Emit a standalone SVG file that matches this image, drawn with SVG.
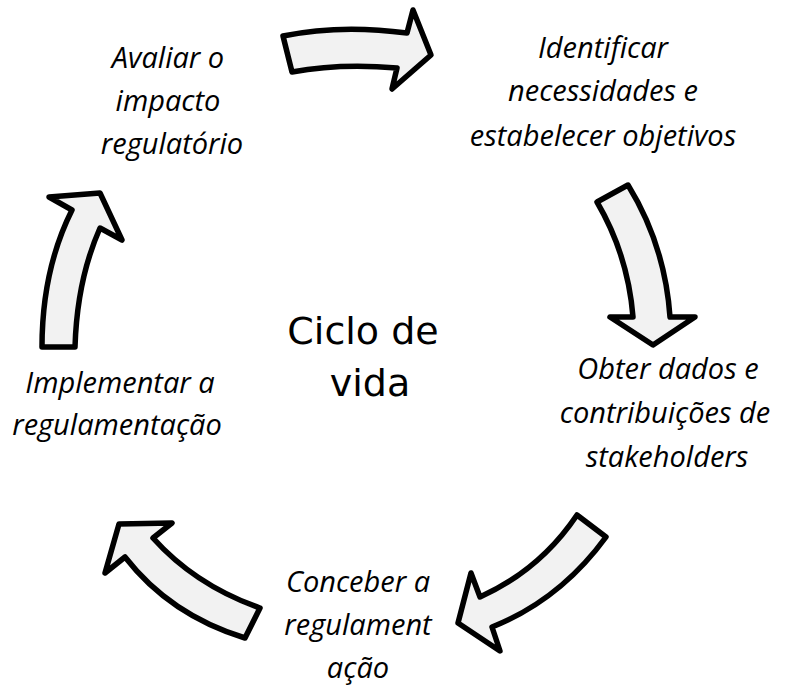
<svg xmlns="http://www.w3.org/2000/svg" width="791" height="688" viewBox="0 0 791 688">
<style>
.arr{fill:#f2f2f2;stroke:#000;stroke-width:5.5;stroke-linejoin:round}
.lbl{font-family:"Open Sans","Liberation Sans",sans-serif;font-style:italic;font-size:29px;fill:#000;text-anchor:middle}
.ctr{font-family:"DejaVu Sans","Liberation Sans",sans-serif;font-size:38px;fill:#000;text-anchor:middle}
</style>
<rect width="791" height="688" fill="#fff"/>
<g id="connectors">
<path class="arr" d="M283,36 Q340,24 407,33 L413,10 L431,55 L392,89 L397,68 Q340,63 292,72 Z"/>
<path class="arr" d="M597,202 L628,185 Q665,245 670,317 L695,317 L653,345 L610,317 L633,317 Q628,255 597,202 Z"/>
<path class="arr" d="M577,515 L606,537 Q560,600 492,627 L500,651 L458,623 L471,573 L480,597 Q540,570 577,515 Z"/>
<path class="arr" d="M245,638 L260,608 Q195,585 153,538 L172,523 L119,524 L105,573 L125,557 Q170,615 245,638 Z"/>
<path class="arr" d="M42,347 L75,347 Q77,280 100,228 L122,240 L100,193 L49,197 L72,210 Q42,270 42,347 Z"/>
</g>
<g id="node-avaliar">
<text class="lbl" x="168" y="68">Avaliar o</text>
<text class="lbl" x="168" y="111">impacto</text>
<text class="lbl" x="172" y="154">regulatório</text>
</g>
<g id="node-identificar">
<text class="lbl" x="603" y="58">Identificar</text>
<text class="lbl" x="603" y="101">necessidades e</text>
<text class="lbl" x="603" y="146">estabelecer objetivos</text>
</g>
<g id="node-obter">
<text class="lbl" x="668" y="379">Obter dados e</text>
<text class="lbl" x="665" y="423">contribuições de</text>
<text class="lbl" x="667" y="467">stakeholders</text>
</g>
<g id="node-conceber">
<text class="lbl" x="358" y="592">Conceber a</text>
<text class="lbl" x="358" y="635">regulament</text>
<text class="lbl" x="358" y="678">ação</text>
</g>
<g id="node-implementar">
<text class="lbl" x="120" y="393">Implementar a</text>
<text class="lbl" x="117" y="435">regulamentação</text>
</g>
<g id="node-ciclo">
<text class="ctr" x="363" y="344">Ciclo de</text>
<text class="ctr" x="370" y="396">vida</text>
</g>
</svg>
